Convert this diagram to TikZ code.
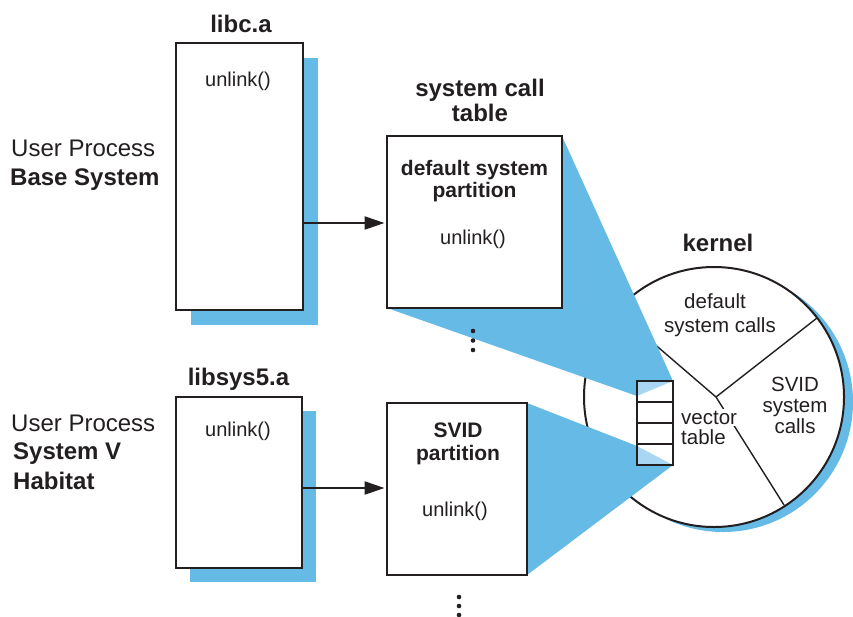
\documentclass[tikz,border=0pt]{standalone}
\usepackage{fontspec}
\setmainfont{Liberation Sans}
\usetikzlibrary{arrows.meta,calc}
\definecolor{sky}{HTML}{66BBE6}
\definecolor{lsky}{HTML}{A9D6F2}
\definecolor{ink}{HTML}{231F20}
\pgfdeclarelayer{back}
\pgfdeclarelayer{mid}
\pgfsetlayers{back,mid,main}
\begin{document}
\begin{tikzpicture}[x=1pt,y=-1pt,
  boxline/.style={draw=ink, line width=2.5pt},
  box/.style={boxline, fill=white, rectangle, inner sep=0pt, outer sep=0pt},
  titleb/.style={font=\fontsize{24}{29}\selectfont\bfseries, text=ink, anchor=base, inner sep=0pt},
  titlep/.style={font=\fontsize{24}{29}\selectfont, text=ink, anchor=base, inner sep=0pt},
  inb/.style={font=\fontsize{21}{25}\selectfont\bfseries, text=ink, anchor=base, inner sep=0pt},
  fn/.style={font=\fontsize{20}{24}\selectfont, text=ink, anchor=base, inner sep=0pt},
  kt/.style={font=\fontsize{20.5}{24}\selectfont, text=ink, anchor=base, inner sep=0pt},
  thinline/.style={draw=ink, line width=1.4pt},
  arr/.style={draw=ink, line width=2.2pt, -{Triangle[length=20pt,width=13pt]}, shorten >=2.5pt},
  dot/.style={fill=ink}]
\useasboundingbox (0,0) rectangle (853,616);

% left boxes with shadows
\fill[sky] (191,58) rectangle (318,325);
\fill[sky] (190,411) rectangle (316,582);
\node[box, minimum width=127pt, minimum height=267pt] (libc) at (239.5,176.5) {};
\node[box, minimum width=126pt, minimum height=171pt] (libsys) at (239,482.5) {};

% system call table boxes
\node[box, minimum width=175pt, minimum height=172pt] (sct) at (474.5,222) {};
\node[box, minimum width=140pt, minimum height=172pt] (svid) at (457,489) {};

% kernel circle
\begin{pgfonlayer}{back}
\node[circle, fill=sky, minimum size=260pt, inner sep=0pt] (kshadow) at (723,402) {};
\node[circle, draw=ink, line width=2pt, fill=white, minimum size=260pt, inner sep=0pt] (kc) at (714,397) {};
\coordinate (hub) at (716,397);
\coordinate (eul) at (616,311);
\coordinate (eur) at (817,318);
\coordinate (elr) at (784,505);
\draw[thinline] (hub) -- (eul);
\draw[thinline] (hub) -- (eur);
\draw[thinline] (hub) -- (elr);
\end{pgfonlayer}

% vector table
\node[box, minimum width=36pt, minimum height=84pt] (vt) at (655,423) {};

% wedges
\begin{pgfonlayer}{mid}
\fill[sky] (sct.north east) -- (vt.north east) -- ($(vt.north west)+(0,15)$) -- (sct.south west) -- cycle;
\fill[sky] (svid.north east) -- ($(vt.north west)+(0,65)$) -- (vt.south east) -- (svid.south east) -- cycle;
\end{pgfonlayer}

\fill[lsky] (vt.north west) -- (vt.north east) -- ($(vt.north west)+(0,15)$) -- cycle;
\fill[lsky] ($(vt.north west)+(0,65)$) -- (vt.south west) -- (vt.south east) -- cycle;
\foreach \d in {21,42,63}{
  \draw[boxline] ($(vt.north west)+(0,\d)$) -- ($(vt.north east)+(0,\d)$);
}
\draw[boxline] (vt.north west) rectangle (vt.south east);

% arrows
\coordinate (ay1) at (345,223);
\coordinate (ay2) at (345,488);
\draw[arr] (libc.east |- ay1) -- (sct.west |- ay1);
\draw[arr] (libsys.east |- ay2) -- (svid.west |- ay2);

% dots
\fill[dot] (473,331) circle (2.3);
\fill[dot] (473,340.5) circle (2.3);
\fill[dot] (473,350) circle (2.3);
\fill[dot] (459,597) circle (2.3);
\fill[dot] (459,606) circle (2.3);
\fill[dot] (459,615) circle (2.3);

% texts
\node[titleb] (tlibc) at (241,32) {libc.a};
\node[titleb] (tlibsys) at (238.5,385) {libsys5.a};
\node[titlep, anchor=base west] (up1) at (11,156) {User Process};
\node[titleb, anchor=base west] (bs) at (10,185) {Base System};
\node[titlep, anchor=base west] (up2) at (11,431) {User Process};
\node[titleb, anchor=base west] (sv) at (13,459) {System V};
\node[titleb, anchor=base west] (hab) at (13,489) {Habitat};
\node[fn] (u1) at (238,86) {unlink()};
\node[fn] (u2) at (238,436) {unlink()};
\node[titleb] (sc1) at (480,96) {system call};
\node[titleb] (sc2) at (480,121) {table};
\node[inb] (dsp1) at (474.5,175) {default system};
\node[inb] (dsp2) at (474.5,197) {partition};
\node[fn] (u3) at (473,244) {unlink()};
\node[inb] (svp1) at (458,437) {SVID};
\node[inb] (svp2) at (458,460) {partition};
\node[fn] (u4) at (455,516) {unlink()};
\node[titleb] (kern) at (718,251) {kernel};
\node[kt] (dsc1) at (715,308) {default};
\node[kt] (dsc2) at (720,332) {system calls};
\node[kt] (svc1) at (795,391) {SVID};
\node[kt] (svc2) at (795,412) {system};
\node[kt] (svc3) at (795,433) {calls};
\node[kt, anchor=base west, fill=white, inner sep=1.5pt] (vtt1) at (679.5,424) {vector};
\node[kt, anchor=base west, fill=white, inner sep=1.5pt] (vtt2) at (679.5,444) {table};
\end{tikzpicture}
\end{document}
